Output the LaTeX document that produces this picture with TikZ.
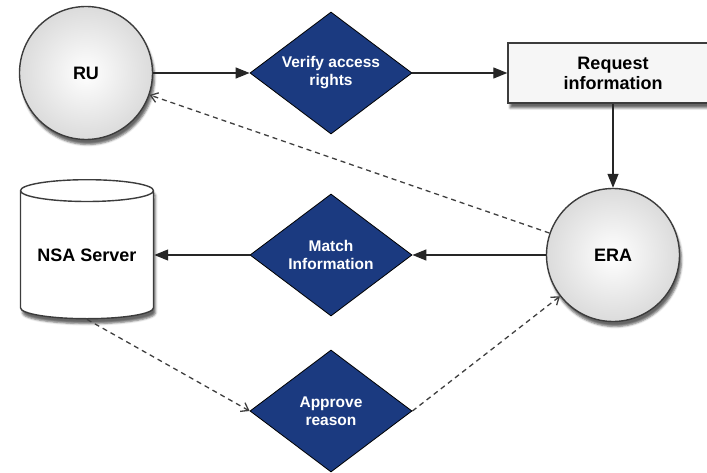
\documentclass[tikz,border=0pt]{standalone}
\usepackage{fontspec}
\setmainfont{Liberation Sans}
\usepackage{tikz}
\usepackage{xcolor}
\usetikzlibrary{shapes.geometric,arrows.meta,shadows.blur}
\definecolor{deepblue}{RGB}{27,58,128}
\definecolor{rimgray}{RGB}{60,60,60}

\begin{document}
\begin{tikzpicture}[x=1pt,y=1pt,
  every node/.style={font=\bfseries\fontsize{18}{20}\selectfont, align=center},
  agent/.style={circle, draw=rimgray, line width=1.4pt, minimum size=133pt, inner sep=0pt,
    inner color=white, outer color=gray!28, blur shadow={shadow xshift=2pt, shadow yshift=-5pt, shadow opacity=60}},
  check/.style={diamond, draw=black, line width=0.8pt, fill=deepblue, text=white, inner sep=0pt,
    aspect=1.33, minimum width=162pt, minimum height=122pt, font=\bfseries\fontsize{15.5}{18}\selectfont},
  taskbox/.style={rectangle, draw=rimgray, line width=1.4pt, fill=gray!7, minimum width=210pt,
    minimum height=60pt, blur shadow={shadow xshift=2pt, shadow yshift=-5pt, shadow opacity=60}},
  store/.style={cylinder, shape border rotate=90, draw=rimgray, line width=1.4pt, fill=white,
    minimum width=133pt, minimum height=139pt, aspect=0.22, inner sep=0pt,
    blur shadow={shadow xshift=2pt, shadow yshift=-5pt, shadow opacity=60}},
  flow/.style={-{Triangle[length=14pt,width=11pt]}, line width=1.3pt, draw=black!85},
  reply/.style={-{Straight Barb[length=7pt,width=10pt]}, line width=1.3pt, draw=black!75,
    dash pattern=on 5pt off 4pt}]
\path[use as bounding box, clip] (0,0) rectangle (707,472);
\node[agent] (ru) at (86,399) {RU};
\node[check] (verify) at (331,399) {Verify access\\rights};
\node[taskbox] (request) at (613,399) {Request\\information};
\node[agent] (era) at (613,217) {ERA};
\node[check] (match) at (331,217) {Match\\Information};
\node[store] (nsa) at (87,217) {NSA Server};
\node[check] (approve) at (331,61) {Approve\\reason};
\draw[flow] (ru) -- (verify);
\draw[flow] (verify) -- (request);
\draw[flow] (request) -- (era);
\draw[flow] (era) -- (match);
\draw[flow] (match) -- (nsa);
\draw[reply] (era) -- (ru);
\draw[reply] (nsa.270) -- (approve.west);
\draw[reply] (approve.east) -- (era);
\end{tikzpicture}
\end{document}
